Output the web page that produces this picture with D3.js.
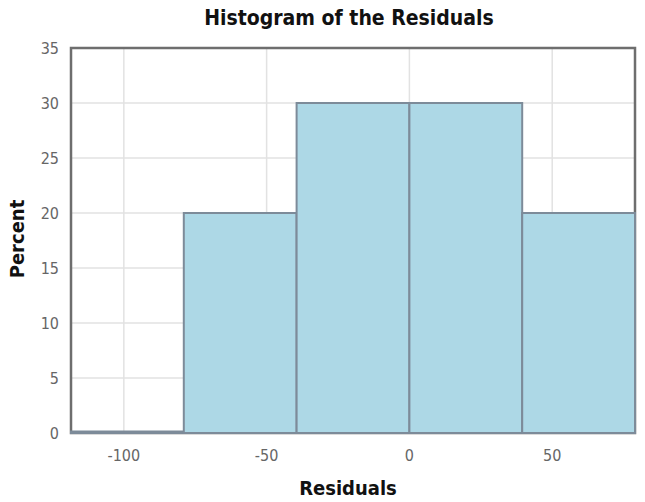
<!DOCTYPE html>
<html>
<head>
<meta charset="utf-8">
<script src="https://cdn.jsdelivr.net/npm/d3@7"></script>
<style>
body{margin:0;background:#fff;}
text{font-family:"DejaVu Sans Condensed","DejaVu Sans",sans-serif;}
</style>
</head>
<body>
<div id="plot"></div>
<script>
//bins of the residuals (lower edge, upper edge) and percent in each
var binStart = [-118.5, -79, -39.5, 0, 39.5];
var binEnd = [-79, -39.5, 0, 39.5, 79];
var percent = [0, 20, 30, 30, 20];
var xTicks = [-100, -50, 0, 50];
var yTicks = [0, 5, 10, 15, 20, 25, 30, 35];

var margin = {t:48,r:10,b:69,l:71};
var width = 645-margin.l-margin.r,
	height = 502-margin.t-margin.b;

var svg = d3.select('#plot')
	.append('svg')
	.attr('width',645)
	.attr('height',502);

var plot = svg.append('g')
	.attr('transform','translate('+margin.l+','+margin.t+')');

var x = d3.scaleLinear().domain([-118.5,79]).range([0,width]);
var y = d3.scaleLinear().domain([0,35]).range([height,0]);

//grid
plot.selectAll('.gx').data(xTicks).enter().append('line')
	.attr('x1',function(d){return x(d)}).attr('x2',function(d){return x(d)})
	.attr('y1',0).attr('y2',height)
	.style('stroke','#e2e2e2').style('stroke-width',1.5);
plot.selectAll('.gy').data(yTicks).enter().append('line')
	.attr('y1',function(d){return y(d)}).attr('y2',function(d){return y(d)})
	.attr('x1',0).attr('x2',width)
	.style('stroke','#e2e2e2').style('stroke-width',1.5);

//frame
plot.append('rect')
	.attr('x',0).attr('y',0)
	.attr('width',width).attr('height',height)
	.style('fill','none')
	.style('stroke','#6e6e6e')
	.style('stroke-width',2.5);

//bars
percent.forEach(function(p,i){
	plot.append('rect')
		.attr('x',x(binStart[i]))
		.attr('y',y(p)-(p==0?1.5:0))
		.attr('width',x(binEnd[i])-x(binStart[i]))
		.attr('height',y(0)-y(p)+(p==0?1.5:0))
		.style('fill','#add8e6')
		.style('stroke','#7d8b99')
		.style('stroke-width',2);
});

//tick labels
plot.selectAll('.xl').data(xTicks).enter().append('text')
	.attr('x',function(d){return x(d)})
	.attr('y',height+28)
	.attr('text-anchor','middle')
	.style('font-size','16px')
	.style('fill','#666')
	.text(function(d){return d});
plot.selectAll('.yl').data(yTicks).enter().append('text')
	.attr('x',-12)
	.attr('y',function(d){return y(d)+6})
	.attr('text-anchor','end')
	.style('font-size','16px')
	.style('fill','#666')
	.text(function(d){return d});

//titles
svg.append('text')
	.attr('x',349).attr('y',25)
	.attr('text-anchor','middle')
	.style('font-size','21px')
	.style('font-weight','bold')
	.style('fill','#111')
	.text('Histogram of the Residuals');
svg.append('text')
	.attr('x',348).attr('y',495)
	.attr('text-anchor','middle')
	.style('font-size','20px')
	.style('font-weight','bold')
	.style('fill','#111')
	.text('Residuals');
svg.append('text')
	.attr('transform','translate(24,239) rotate(-90)')
	.attr('text-anchor','middle')
	.style('font-size','20px')
	.style('font-weight','bold')
	.style('fill','#111')
	.text('Percent');
</script>
</body>
</html>
